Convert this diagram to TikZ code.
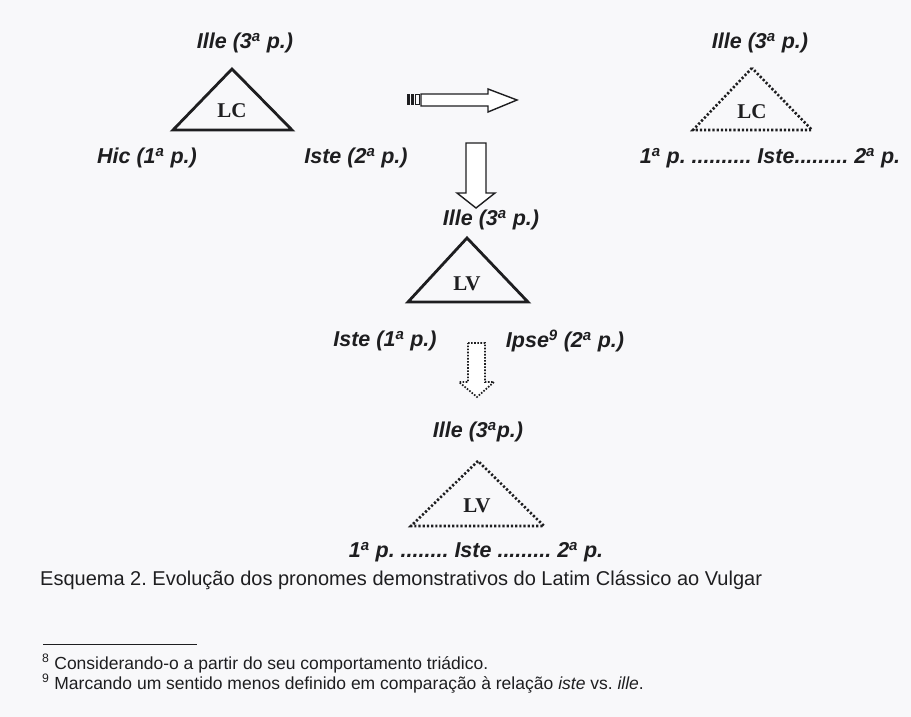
\documentclass[tikz,border=0pt]{standalone}
\usepackage{fontspec}
\setmainfont{Liberation Sans}
\newfontfamily\serifbf{Liberation Serif}
\usetikzlibrary{calc}
\frenchspacing
\definecolor{bgc}{RGB}{248,248,250}
\definecolor{ink}{RGB}{30,30,32}
\tikzset{
  lab/.style={font=\fontsize{21.5}{24}\selectfont\bfseries\itshape, text=ink, inner sep=0pt},
  tri/.style={font=\serifbf\fontsize{21}{23}\selectfont\bfseries, text=ink, inner sep=0pt},
  soltri/.style={draw=ink, line width=2.8pt, line join=miter},
  dottri/.style={draw=ink, line width=2.6pt, dash pattern=on 2.2pt off 2pt},
  blockarrow/.style={draw=ink, line width=1.4pt, fill=white, line join=miter},
  dotarrow/.style={draw=ink, line width=1.7pt, dash pattern=on 1.6pt off 1.5pt, fill=white},
  capt/.style={font=\fontsize{20}{22}\selectfont, text=ink, inner sep=0pt, anchor=base west},
  foot/.style={font=\fontsize{17.5}{19}\selectfont, text=ink, inner sep=0pt, anchor=base west}
}
\newcommand{\ord}{\textsuperscript{a}}
\begin{document}
\begin{tikzpicture}[x=1pt,y=-1pt]
\useasboundingbox[fill=bgc] (0,0) rectangle (911,717);

% ---------- top-left: LC solid
\node[lab] (ille1) at (245,43) {Ille (3\ord\ p.)};
\coordinate (a1) at (232,69);
\coordinate (b1) at (173,130);
\coordinate (c1) at (292,130);
\draw[soltri] (a1) -- (b1) -- (c1) -- cycle;
\node[tri] (lc1) at (232,111) {LC};
\node[lab] (hic) at (147,158) {Hic (1\ord\ p.)};
\node[lab] (iste2) at (356,158) {Iste (2\ord\ p.)};

% ---------- horizontal striped arrow
\fill[ink] (407,94) rectangle (409.5,105);
\fill[ink] (411,94) rectangle (413.5,105);
\draw[ink, line width=1.2pt] (415.5,94.5) rectangle (419.5,104.5);
\draw[blockarrow] (421,94) -- (488,94) -- (488,89) -- (517,100) -- (488,112) -- (488,106) -- (421,106) -- cycle;

% ---------- top-right: LC dotted
\node[lab] (ille2) at (760,43) {Ille (3\ord\ p.)};
\coordinate (a2) at (752,68);
\coordinate (b2) at (693,130);
\coordinate (c2) at (812,130);
\draw[dottri] (a2) -- (b2) -- (c2) -- cycle;
\node[tri] (lc2) at (752,112) {LC};
\node[lab] (row2) at (770,158) {1\ord\ p. .......... Iste......... 2\ord\ p.};

% ---------- solid down arrow
\draw[blockarrow] (466,143) -- (486,143) -- (486,193) -- (495,193) -- (476,208) -- (457,193) -- (466,193) -- cycle;

% ---------- middle: LV solid
\node[lab] (ille3) at (491,220) {Ille (3\ord\ p.)};
\coordinate (a3) at (467,238);
\coordinate (b3) at (408,302);
\coordinate (c3) at (528,302);
\draw[soltri] (a3) -- (b3) -- (c3) -- cycle;
\node[tri] (lv1) at (467,284) {LV};
\node[lab] (iste1) at (385,341) {Iste (1\ord\ p.)};
\node[lab] (ipse) at (565,341) {Ipse\textsuperscript{9} (2\ord\ p.)};

% ---------- dotted down arrow
\draw[dotarrow] (468,343) -- (485,343) -- (485,382) -- (494,382) -- (477,397) -- (459,382) -- (468,382) -- cycle;

% ---------- bottom: LV dotted
\node[lab] (ille4) at (478,432) {Ille (3\ord p.)};
\coordinate (a4) at (478,461);
\coordinate (b4) at (411,526);
\coordinate (c4) at (544,526);
\draw[dottri] (a4) -- (b4) -- (c4) -- cycle;
\node[tri] (lv2) at (477,506) {LV};
\node[lab] (row4) at (476,552) {1\ord\ p. ........ Iste ......... 2\ord\ p.};

% ---------- caption and footnotes
\node[capt] (cap) at (40,585) {Esquema 2. Evolução dos pronomes demonstrativos do Latim Clássico ao Vulgar};
\coordinate (r1) at (43,644);
\coordinate (r2) at (197,644);
\draw[ink, line width=1pt] (r1) -- (r2);
\node[foot] (f8) at (42,669) {\textsuperscript{8} Considerando-o a partir do seu comportamento triádico.};
\node[foot] (f9) at (42,689) {\textsuperscript{9} Marcando um sentido menos definido em comparação à relação \textit{iste} vs. \textit{ille}.};
\end{tikzpicture}
\end{document}
